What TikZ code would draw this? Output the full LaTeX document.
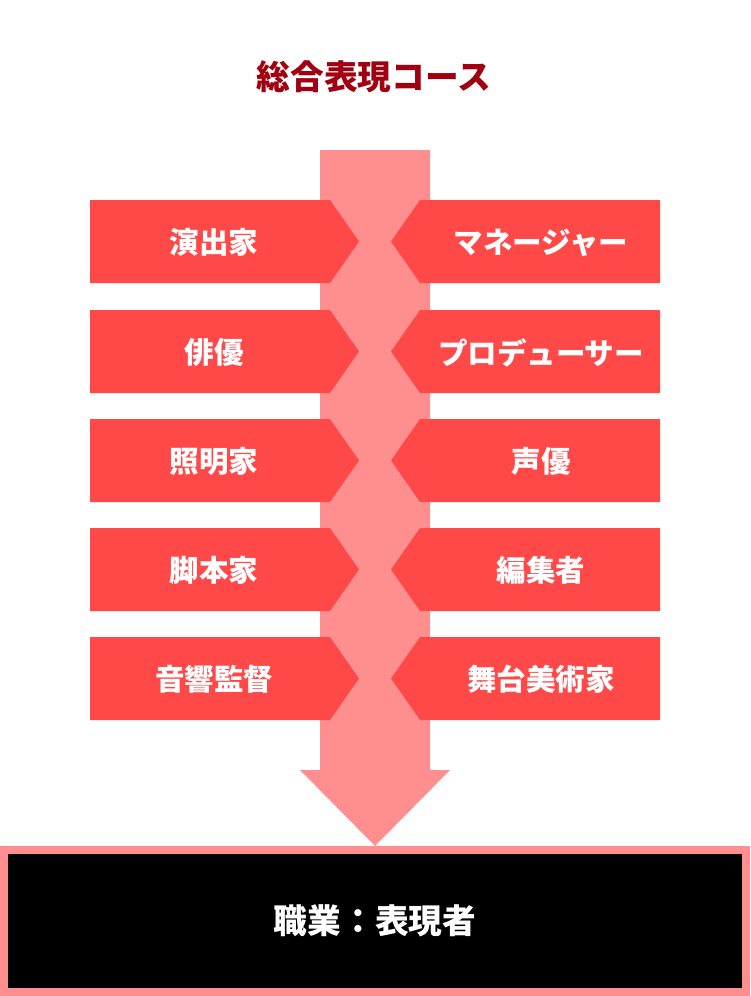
\documentclass[tikz,border=0pt]{standalone}
\usepackage{fontspec}
\setmainfont{Noto Sans CJK JP}
\definecolor{boxred}{HTML}{FF4848}
\definecolor{shaft}{HTML}{FF8F8F}
\definecolor{titlered}{HTML}{A0000F}
\begin{document}
\begin{tikzpicture}[x=1pt,y=-1pt,
  lbl/.style={text=white,font=\fontsize{29.5}{29.5}\selectfont\bfseries,inner sep=0pt,anchor=center}]
\useasboundingbox (0,0) rectangle (750,996);
\fill[white] (0,0) rectangle (750,996);
% title
\node[text=titlered,font=\fontsize{33.7}{33.7}\selectfont\bfseries,inner sep=0pt] (title) at (374,77) {総合表現コース};
% big arrow
\fill[shaft] (320,150) -- (430,150) -- (430,770) -- (450,770) -- (375,846) -- (300,770) -- (320,770) -- cycle;
% boxes
\foreach \t/\l/\r [count=\i from 0] in {200/演出家/マネージャー,310/俳優/プロデューサー,419/照明家/声優,528/脚本家/編集者,637/音響監督/舞台美術家}{
  \pgfmathsetmacro{\b}{\t+83}
  \pgfmathsetmacro{\m}{\t+41.5}
  \fill[boxred] (90,\t) -- (330,\t) -- (359,\m) -- (330,\b) -- (90,\b) -- cycle;
  \fill[boxred] (660,\t) -- (420,\t) -- (391,\m) -- (420,\b) -- (660,\b) -- cycle;
  \node[lbl] (L\i) at (214,\m+1) {\l};
  \node[lbl] (R\i) at (541,\m+1) {\r};
}
% bottom box
\fill[shaft] (0,846) rectangle (750,996);
\fill[black] (8,854) rectangle (742,988);
\node[text=white,font=\fontsize{33.7}{33.7}\selectfont\bfseries,inner sep=0pt] (job) at (375,921) {職業：表現者};
\end{tikzpicture}
\end{document}
